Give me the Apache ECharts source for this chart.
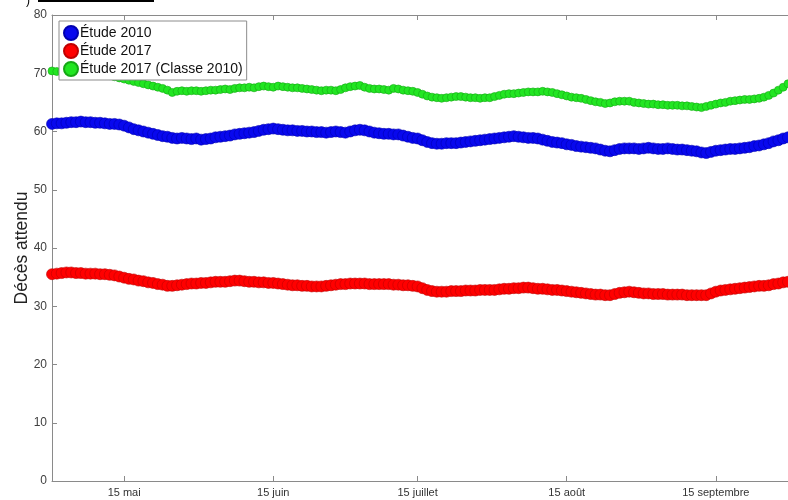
<!DOCTYPE html>
<html>
<head>
<meta charset="utf-8">
<script src="https://cdn.jsdelivr.net/npm/echarts@6/dist/echarts.min.js"></script>
<style>
  html, body { margin: 0; padding: 0; background: #fff; }
  #chart { width: 788px; height: 500px; }
</style>
</head>
<body>
<div id="chart"></div>
<script>
// axe des x : un point par jour, du 30 avril au 30 septembre
const moisNoms = ['janvier', 'février', 'mars', 'avril', 'mai', 'juin', 'juillet', 'août', 'septembre', 'octobre'];
const tickLabels = ['15 mai', '15 juin', '15 juillet', '15 août', '15 septembre'];
const jours = [];
for (let d = new Date(2017, 3, 30); d <= new Date(2017, 8, 30); d.setDate(d.getDate() + 1)) {
  jours.push(d.getDate() + ' ' + moisNoms[d.getMonth()]);
}

const etude2010 = [
  61.3, 61.4, 61.4, 61.5, 61.6, 61.6, 61.7, 61.6, 61.6, 61.5,
  61.5, 61.4, 61.3, 61.3, 61.2, 61.0, 60.7, 60.4, 60.2, 60.0,
  59.8, 59.6, 59.4, 59.2, 59.1, 58.9, 58.8, 58.9, 58.8, 58.7,
  58.8, 58.6, 58.7, 58.8, 59.0, 59.1, 59.2, 59.3, 59.5, 59.6,
  59.7, 59.8, 59.9, 60.1, 60.3, 60.4, 60.5, 60.4, 60.3, 60.2,
  60.2, 60.1, 60.1, 60.0, 60.0, 59.9, 59.9, 59.8, 59.9, 60.0,
  59.9, 59.8, 60.0, 60.2, 60.3, 60.2, 60.0, 59.8, 59.7, 59.6,
  59.6, 59.5, 59.5, 59.3, 59.1, 58.9, 58.8, 58.5, 58.2, 58.0,
  57.9, 57.9, 58.0, 58.0, 58.0, 58.1, 58.2, 58.3, 58.4, 58.5,
  58.6, 58.7, 58.8, 58.9, 59.0, 59.1, 59.2, 59.1, 59.0, 58.9,
  58.9, 58.8, 58.6, 58.4, 58.2, 58.1, 58.0, 57.8, 57.7, 57.5,
  57.4, 57.3, 57.2, 57.1, 56.9, 56.7, 56.6, 56.8, 57.0, 57.1,
  57.1, 57.1, 57.0, 57.1, 57.2, 57.1, 57.0, 57.0, 57.1, 57.0,
  56.9, 56.9, 56.8, 56.7, 56.6, 56.4, 56.3, 56.5, 56.7, 56.8,
  56.9, 57.0, 57.0, 57.1, 57.2, 57.3, 57.5, 57.6, 57.8, 58.0,
  58.3, 58.5, 58.8, 59.0
];

const etude2017 = [
  35.5, 35.6, 35.7, 35.8, 35.8, 35.7, 35.7, 35.6, 35.6, 35.6,
  35.5, 35.5, 35.4, 35.3, 35.1, 34.9, 34.7, 34.6, 34.4, 34.3,
  34.1, 34.0, 33.8, 33.7, 33.5, 33.5, 33.6, 33.7, 33.8, 33.9,
  33.9, 34.0, 34.0, 34.1, 34.2, 34.2, 34.2, 34.3, 34.4, 34.4,
  34.3, 34.2, 34.2, 34.1, 34.1, 34.0, 34.0, 33.9, 33.8, 33.7,
  33.6, 33.6, 33.5, 33.5, 33.4, 33.4, 33.4, 33.5, 33.6, 33.7,
  33.8, 33.8, 33.9, 33.9, 33.9, 33.9, 33.8, 33.8, 33.8, 33.8,
  33.8, 33.7, 33.7, 33.6, 33.6, 33.5, 33.4, 33.1, 32.8, 32.6,
  32.5, 32.5, 32.5, 32.6, 32.6, 32.6, 32.7, 32.7, 32.7, 32.8,
  32.8, 32.8, 32.8, 32.9, 33.0, 33.0, 33.1, 33.1, 33.2, 33.2,
  33.1, 33.0, 33.0, 32.9, 32.8, 32.8, 32.7, 32.6, 32.5, 32.4,
  32.3, 32.2, 32.1, 32.0, 32.0, 31.9, 31.9, 32.1, 32.3, 32.4,
  32.5, 32.4, 32.3, 32.2, 32.2, 32.1, 32.1, 32.1, 32.0, 32.0,
  32.0, 32.0, 31.9, 31.9, 31.9, 31.9, 31.9, 32.2, 32.5, 32.7,
  32.8, 32.9, 33.0, 33.1, 33.2, 33.3, 33.4, 33.5, 33.5, 33.6,
  33.8, 33.9, 34.1, 34.2
];

const etude2017Classe2010 = [
  70.4, 70.3, 70.3, 70.2, 70.2, 70.1, 70.1, 70.0, 70.0, 69.9,
  69.9, 69.8, 69.6, 69.4, 69.2, 69.0, 68.8, 68.6, 68.4, 68.2,
  68.0, 67.8, 67.6, 67.4, 67.1, 66.7, 66.9, 67.0, 66.9, 67.0,
  67.0, 66.9, 67.0, 67.1, 67.1, 67.2, 67.3, 67.2, 67.4, 67.5,
  67.5, 67.6, 67.5, 67.7, 67.8, 67.7, 67.6, 67.8, 67.7, 67.6,
  67.5, 67.5, 67.4, 67.3, 67.2, 67.1, 67.0, 67.1, 67.1, 67.0,
  67.2, 67.5, 67.7, 67.8, 67.9, 67.6, 67.4, 67.3, 67.3, 67.2,
  67.1, 67.4, 67.3, 67.1, 67.0, 66.9, 66.7, 66.4, 66.1, 65.9,
  65.8, 65.7, 65.8, 65.9, 66.0, 66.0, 65.9, 65.8, 65.8, 65.7,
  65.8, 65.8, 66.0, 66.2, 66.4, 66.5, 66.5, 66.6, 66.7, 66.8,
  66.8, 66.8, 66.9, 66.8, 66.7, 66.5, 66.3, 66.1, 65.9, 65.8,
  65.7, 65.5, 65.3, 65.1, 65.0, 64.8, 64.9, 65.1, 65.2, 65.2,
  65.2, 65.0, 64.9, 64.8, 64.7, 64.7, 64.6, 64.6, 64.5, 64.5,
  64.5, 64.4, 64.4, 64.3, 64.2, 64.1, 64.3, 64.5, 64.7, 64.9,
  65.0, 65.2, 65.3, 65.4, 65.5, 65.5, 65.6, 65.7, 65.9, 66.2,
  66.6, 67.1, 67.6, 68.2
];

const estTick = (idx, val) => tickLabels.indexOf(val) >= 0;
const police = 'Liberation Sans, Arial, sans-serif';

const myChart = echarts.init(document.getElementById('chart'));

const option = {
  animation: false,
  textStyle: { fontFamily: police },
  grid: { left: 52, top: 15, right: 0, bottom: 19, containLabel: false, outerBoundsMode: 'none' },
  legend: {
    orient: 'vertical',
    left: 59, top: 21,
    padding: [4, 4, 3, 4],
    itemGap: 2,
    itemWidth: 14, itemHeight: 14,
    backgroundColor: '#fff',
    borderColor: '#8c8c8c', borderWidth: 1, borderRadius: 0,
    textStyle: { fontSize: 14, color: '#111', fontFamily: police, padding: [0, 0, 0, -3] },
    data: [
      { name: 'Étude 2010', icon: 'circle' },
      { name: 'Étude 2017', icon: 'circle' },
      { name: 'Étude 2017 (Classe 2010)', icon: 'circle' }
    ]
  },
  xAxis: [{
    type: 'category',
    data: jours,
    boundaryGap: false,
    axisLine: { lineStyle: { color: '#8a8a8a', width: 1 } },
    axisTick: { inside: true, length: 5, interval: estTick, lineStyle: { color: '#8a8a8a' } },
    axisLabel: {
      interval: estTick, fontSize: 11, color: '#333', margin: 6,
      formatter: v => tickLabels.indexOf(v) >= 0 ? v : ''
    },
    splitLine: { show: false }
  }, {
    type: 'category',
    position: 'top',
    data: jours,
    boundaryGap: false,
    axisLine: { lineStyle: { color: '#8a8a8a', width: 1 } },
    axisTick: { inside: true, length: 5, interval: estTick, lineStyle: { color: '#8a8a8a' } },
    axisLabel: { show: false },
    splitLine: { show: false }
  }],
  yAxis: {
    type: 'value',
    min: 0, max: 80, interval: 10,
    name: 'Décès attendu',
    nameLocation: 'middle',
    nameMoveOverlap: false,
    nameGap: 21,
    nameTextStyle: { fontSize: 17.5, color: '#222', fontFamily: police },
    axisLine: { show: true, lineStyle: { color: '#8a8a8a', width: 1 } },
    axisTick: { show: true, inside: true, length: 5, lineStyle: { color: '#8a8a8a' } },
    axisLabel: { fontSize: 12, color: '#404040', margin: 5 },
    splitLine: { show: false }
  },
  series: [
    {
      name: 'Étude 2010', type: 'scatter', data: etude2010,
      symbolSize: 11,
      itemStyle: { color: '#0808ee', borderColor: '#0000b0', borderWidth: 0.6, opacity: 1 }
    },
    {
      name: 'Étude 2017', type: 'scatter', data: etude2017,
      symbolSize: 11,
      itemStyle: { color: '#ff0000', borderColor: '#c00000', borderWidth: 0.6, opacity: 1 }
    },
    {
      name: 'Étude 2017 (Classe 2010)', type: 'scatter', data: etude2017Classe2010,
      symbolSize: 8,
      itemStyle: { color: '#22e622', borderColor: '#16a816', borderWidth: 0.6, opacity: 1 }
    }
  ],
  graphic: [
    { type: 'text', left: 26, top: -5, style: { text: ')', fontSize: 12, fill: '#000', fontFamily: police } },
    { type: 'rect', shape: { x: 38, y: 0, width: 116, height: 2 }, style: { fill: '#000' } }
  ]
};

myChart.setOption(option);
</script>
</body>
</html>
